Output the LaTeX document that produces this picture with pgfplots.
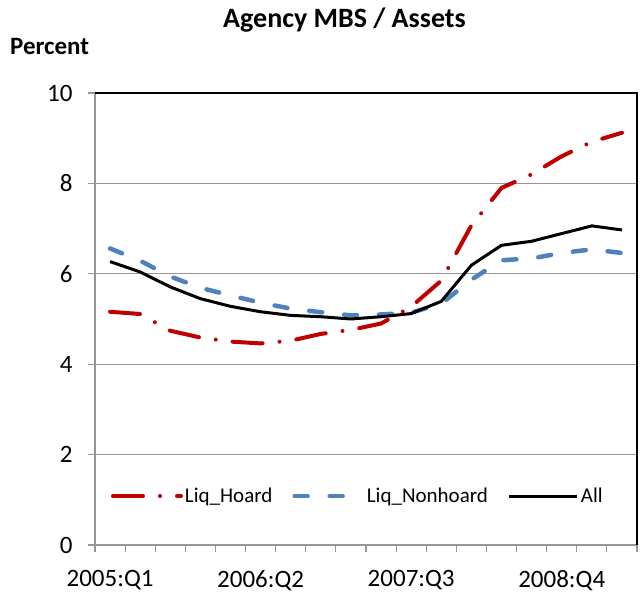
\documentclass[border=0pt]{standalone}
\usepackage{fontspec}
\setmainfont{Carlito}
\usepackage{pgfplots}
\pgfplotsset{compat=1.18}
\definecolor{hoard}{RGB}{192,0,0}
\definecolor{nonhoard}{RGB}{79,129,189}
\definecolor{gridc}{RGB}{150,150,150}
\begin{document}
\begin{tikzpicture}
\useasboundingbox (-95pt,-67pt) rectangle (545pt,545pt);
\begin{axis}[
  at={(0pt,0pt)}, anchor=south west,
  scale only axis, width=542pt, height=452pt,
  xmin=-0.5, xmax=17.5, ymin=0, ymax=10,
  ytick={0,2,...,10},
  xtick={0,5,10,15},
  xticklabels={2005:Q1,2006:Q2,2007:Q3,2008:Q4},
  minor xtick={-0.5,0.5,...,17.5},
  major x tick style={draw=none},
  tick align=outside,
  minor tick length=7pt, major tick length=7pt,
  ymajorgrids, major grid style={gridc, line width=1.2pt},
  axis line style={gridc, line width=1.5pt},
  tick style={gridc, line width=1.2pt},
  xtick pos=bottom, ytick pos=left,
  ticklabel style={font=\fontsize{25}{30}\selectfont, text=black},
  yticklabel style={xshift=-12pt},
  xticklabel style={yshift=-15pt},
  /pgf/number format/assume math mode=true,
  clip=false,
  legend style={at={(0.485,0.108)}, anchor=center, draw=none, fill=none,
    font=\fontsize{21}{25}\selectfont, legend columns=3,
    /tikz/every even column/.append style={column sep=18pt}},
  legend image code/.code={\draw[#1] (0pt,0pt) -- (68pt,0pt);},
]
\addplot[hoard, line width=4pt, line cap=round, dash pattern=on 30pt off 17pt on 0.01pt off 17pt] coordinates {
(0,5.16) (1,5.11) (2,4.74) (3,4.59) (4,4.50) (5,4.46) (6,4.52) (7,4.67) (8,4.76)
(9,4.90) (10,5.27) (11,5.85) (12,7.07) (13,7.90) (14,8.20) (15,8.60) (16,8.92) (17,9.12)};
\addlegendentry{Liq\_Hoard}
\addplot[nonhoard, line width=4.5pt, line cap=round, dash pattern=on 13pt off 22pt] coordinates {
(0,6.56) (1,6.29) (2,5.94) (3,5.69) (4,5.52) (5,5.36) (6,5.23) (7,5.15) (8,5.08)
(9,5.10) (10,5.14) (11,5.34) (12,5.87) (13,6.30) (14,6.34) (15,6.46) (16,6.54) (17,6.46)};
\addlegendentry{Liq\_Nonhoard}
\addplot[black, line width=3pt] coordinates {
(0,6.27) (1,6.04) (2,5.71) (3,5.45) (4,5.28) (5,5.16) (6,5.08) (7,5.05) (8,5.00)
(9,5.05) (10,5.12) (11,5.39) (12,6.19) (13,6.63) (14,6.72) (15,6.89) (16,7.06) (17,6.97)};
\addlegendentry{All}
\draw[black, line width=1.5pt] (rel axis cs:0,1) -- (rel axis cs:1,1) -- (rel axis cs:1,0);
\end{axis}
\node[font=\bfseries\fontsize{28}{33}\selectfont] at (249.5pt,525pt) {Agency MBS / Assets};
\node[anchor=west, inner sep=0pt, font=\bfseries\fontsize{25}{30}\selectfont] at (-85pt,499pt) {Percent};
\end{tikzpicture}
\end{document}
